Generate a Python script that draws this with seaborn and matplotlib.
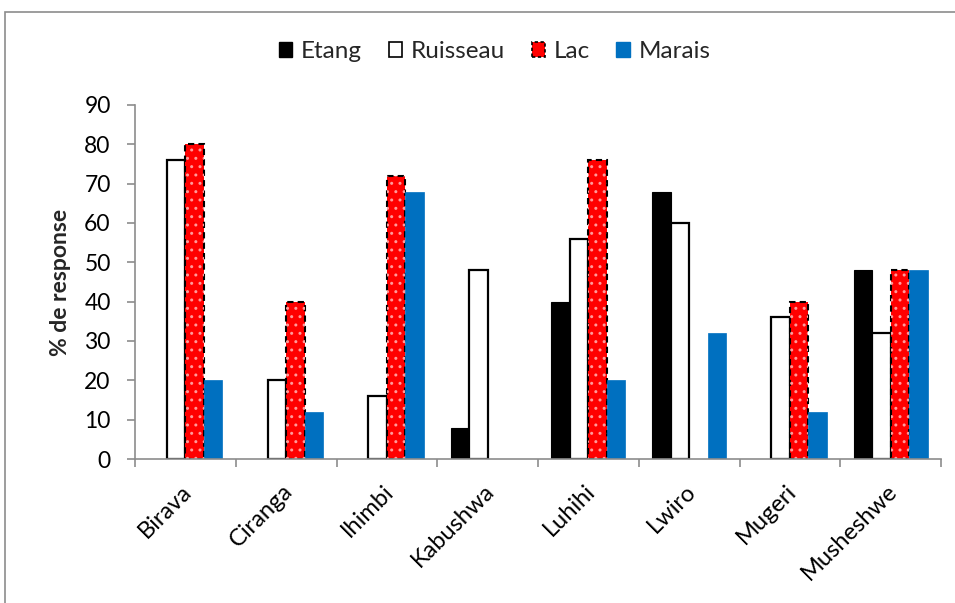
import matplotlib
matplotlib.use("Agg")
import matplotlib.pyplot as plt
from matplotlib.patches import Rectangle
from matplotlib.transforms import ScaledTranslation
import seaborn as sns
import pandas as pd
import numpy as np

sites = ["Birava", "Ciranga", "Ihimbi", "Kabushwa", "Luhihi", "Lwiro", "Mugeri", "Musheshwe"]
etang = [0, 0, 0, 8, 40, 68, 0, 48]
ruisseau = [76, 20, 16, 48, 56, 60, 36, 32]
lac = [80, 40, 72, 0, 76, 0, 40, 48]
marais = [20, 12, 68, 0, 20, 32, 12, 48]
series = ["Etang", "Ruisseau", "Lac", "Marais"]
yticks = list(range(0, 100, 10))

df = pd.DataFrame({
    "site": np.repeat(sites, 4),
    "type": series * len(sites),
    "value": np.ravel(np.column_stack([etang, ruisseau, lac, marais])),
})

sns.set_theme(style="white")
plt.rcParams["font.family"] = ["Lato", "DejaVu Sans"]

fig = plt.figure(figsize=(9.55, 6.03), dpi=100)
ax = fig.add_axes([0.1414, 0.2388, 0.8440, 0.5871])

palette = {"Etang": "#000000", "Ruisseau": "#FFFFFF", "Lac": "#FF0000", "Marais": "#0070C0"}
sns.barplot(data=df, x="site", y="value", hue="type", hue_order=series, order=sites,
            palette=palette, width=0.735, saturation=1, ax=ax, legend=False)

grey = "#8C8C8C"
for name, cont in zip(series, ax.containers):
    for bar in cont:
        h = bar.get_height()
        if name == "Etang":
            bar.set_edgecolor("#000000"); bar.set_linewidth(0.8)
        elif name == "Ruisseau":
            bar.set_edgecolor("#000000"); bar.set_linewidth(1.6)
        elif name == "Lac":
            bar.set_edgecolor("#000000"); bar.set_linewidth(1.5); bar.set_linestyle((0, (3, 2)))
            dots = Rectangle(bar.get_xy(), bar.get_width(), h, facecolor="none",
                             edgecolor="#FF9A9A", linewidth=0, hatch="..", zorder=bar.get_zorder() + 0.1)
            ax.add_patch(dots)
        else:
            bar.set_edgecolor("#0070C0"); bar.set_linewidth(0.5)
        if h == 0:
            bar.set_visible(False)

ax.set_ylim(0, 90)
ax.set_xlim(-0.5, len(sites) - 0.5)
ax.set_yticks(yticks)
ax.set_yticklabels([str(t) for t in yticks], fontsize=16.5)
ax.set_ylabel("% de response", fontsize=16.5, fontweight="bold")
ax.yaxis.set_label_coords(-0.079, 0.5)
ax.set_xlabel("")

# category labels at centres, tick marks at category boundaries
ax.set_xticks(np.arange(len(sites)))
ax.set_xticklabels(sites, rotation=45, ha="right", va="center",
                   rotation_mode="anchor", fontsize=17)
ax.set_xticks(np.arange(len(sites) + 1) - 0.5, minor=True)
ax.tick_params(axis="x", which="major", length=0, pad=21)
ax.tick_params(axis="x", which="minor", length=6, width=1.2, color=grey, direction="out", bottom=True)
ax.tick_params(axis="y", length=5.5, width=1.2, color=grey, direction="out", pad=12, left=True)
ax.tick_params(axis="both", labelcolor="#000000")
for lbl in ax.get_xticklabels():
    lbl.set_transform(lbl.get_transform() + ScaledTranslation(3 / 100, 0, fig.dpi_scale_trans))

for side in ("top", "right"):
    ax.spines[side].set_visible(False)
for side in ("left", "bottom"):
    ax.spines[side].set_color(grey)
    ax.spines[side].set_linewidth(1.2)

# legend
handles = []
for name in series:
    c = palette[name]
    if name == "Lac":
        h = Rectangle((0, 0), 1, 1, facecolor=c, edgecolor="#000000", linewidth=1.2, linestyle=(0, (2, 1.5)))
    elif name == "Ruisseau":
        h = Rectangle((0, 0), 1, 1, facecolor=c, edgecolor="#000000", linewidth=1.2)
    else:
        h = Rectangle((0, 0), 1, 1, facecolor=c, edgecolor=c)
    handles.append(h)
fig.legend(handles, series, loc="center", bbox_to_anchor=(0.518, 0.914), ncol=4, frameon=False,
           fontsize=17.5, handlelength=0.55, handleheight=0.55, handletextpad=0.35, columnspacing=1.1)

# chart area border
fig.add_artist(Rectangle((5 / 955, -0.2), 1.2, 1.2 - 12 / 603, transform=fig.transFigure,
                         facecolor="none", edgecolor="#8C8C8C", linewidth=1.2))

fig.savefig("out.png", dpi=100)
